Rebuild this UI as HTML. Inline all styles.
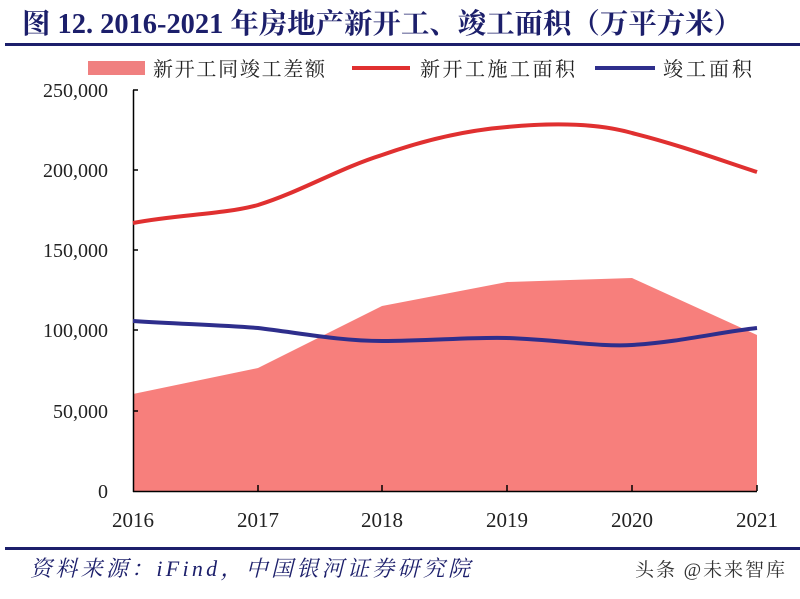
<!DOCTYPE html>
<html><head><meta charset="utf-8"><style>
html,body{margin:0;padding:0;background:#fff;}
svg text{font-family:"Liberation Serif","Noto Serif CJK SC",serif;}
</style></head><body>
<svg width="800" height="594" viewBox="0 0 800 594" xmlns="http://www.w3.org/2000/svg">
<rect width="800" height="594" fill="#fff"/>
<text x="22" y="33" font-size="28" font-weight="bold" fill="#1c1f6b" textLength="720" lengthAdjust="spacingAndGlyphs">图 12. 2016-2021 年房地产新开工、竣工面积（万平方米）</text>
<rect x="5" y="43" width="795" height="3" fill="#1c1f6b"/>
<rect x="88" y="61" width="57" height="14" fill="#f08080"/>
<text x="153" y="76" font-size="20" fill="#222" textLength="172" lengthAdjust="spacing">新开工同竣工差额</text>
<rect x="352" y="66" width="58" height="4" fill="#e03030"/>
<text x="420" y="76" font-size="20" fill="#222" textLength="155" lengthAdjust="spacing">新开工施工面积</text>
<rect x="595" y="66" width="60" height="4" fill="#2e2e8c"/>
<text x="663" y="76" font-size="20" fill="#222" textLength="89" lengthAdjust="spacing">竣工面积</text>
<path d="M133,394 L258,368 L382,306 L507,282 L632,278 L757,335 L757,491 L133,491 Z" fill="#f77f7c"/>
<line x1="133.5" y1="90" x2="133.5" y2="492" stroke="#000" stroke-width="1.5"/>
<line x1="133" y1="491.5" x2="757" y2="491.5" stroke="#000" stroke-width="1.5"/>
<g stroke="#000" stroke-width="1.5">
<line x1="133" y1="90" x2="138" y2="90"/><line x1="133" y1="170" x2="138" y2="170"/><line x1="133" y1="250" x2="138" y2="250"/><line x1="133" y1="330" x2="138" y2="330"/><line x1="133" y1="411" x2="138" y2="411"/>
<line x1="258" y1="491" x2="258" y2="485"/><line x1="382" y1="491" x2="382" y2="485"/><line x1="507" y1="491" x2="507" y2="485"/><line x1="632" y1="491" x2="632" y2="485"/><line x1="757" y1="491" x2="757" y2="485"/>
</g>
<g font-size="20" fill="#222" text-anchor="end">
<text x="108" y="97">250,000</text><text x="108" y="177">200,000</text><text x="108" y="257">150,000</text><text x="108" y="337">100,000</text><text x="108" y="418">50,000</text><text x="108" y="498">0</text>
</g>
<g font-size="21" fill="#222" text-anchor="middle">
<text x="133" y="527">2016</text><text x="258" y="527">2017</text><text x="382" y="527">2018</text><text x="507" y="527">2019</text><text x="632" y="527">2020</text><text x="757" y="527">2021</text>
</g>
<path d="M133,223 C180,214 220,215 258,205 C300,192 340,168 382,155 C430,138 470,130 507,127 C560,122 600,124 632,133 C680,145 720,160 757,172" fill="none" stroke="#e03030" stroke-width="4"/>
<path d="M133,321 C180,324 220,325 258,328 C300,333 340,341 382,341 C430,341 470,337 507,338 C560,340 600,347 632,345 C680,342 720,332 757,328" fill="none" stroke="#2e2e8c" stroke-width="4"/>
<rect x="5" y="547" width="795" height="3" fill="#1c1f6b"/>
<text x="30" y="576" font-size="22" font-style="italic" fill="#1c1f6b" textLength="440" lengthAdjust="spacing">资料来源：iFind，中国银河证券研究院</text>
<text x="785" y="576" font-size="19" fill="#333" text-anchor="end" font-family="Noto Sans CJK SC" textLength="150" lengthAdjust="spacing">头条 @未来智库</text>
</svg>
</body></html>
